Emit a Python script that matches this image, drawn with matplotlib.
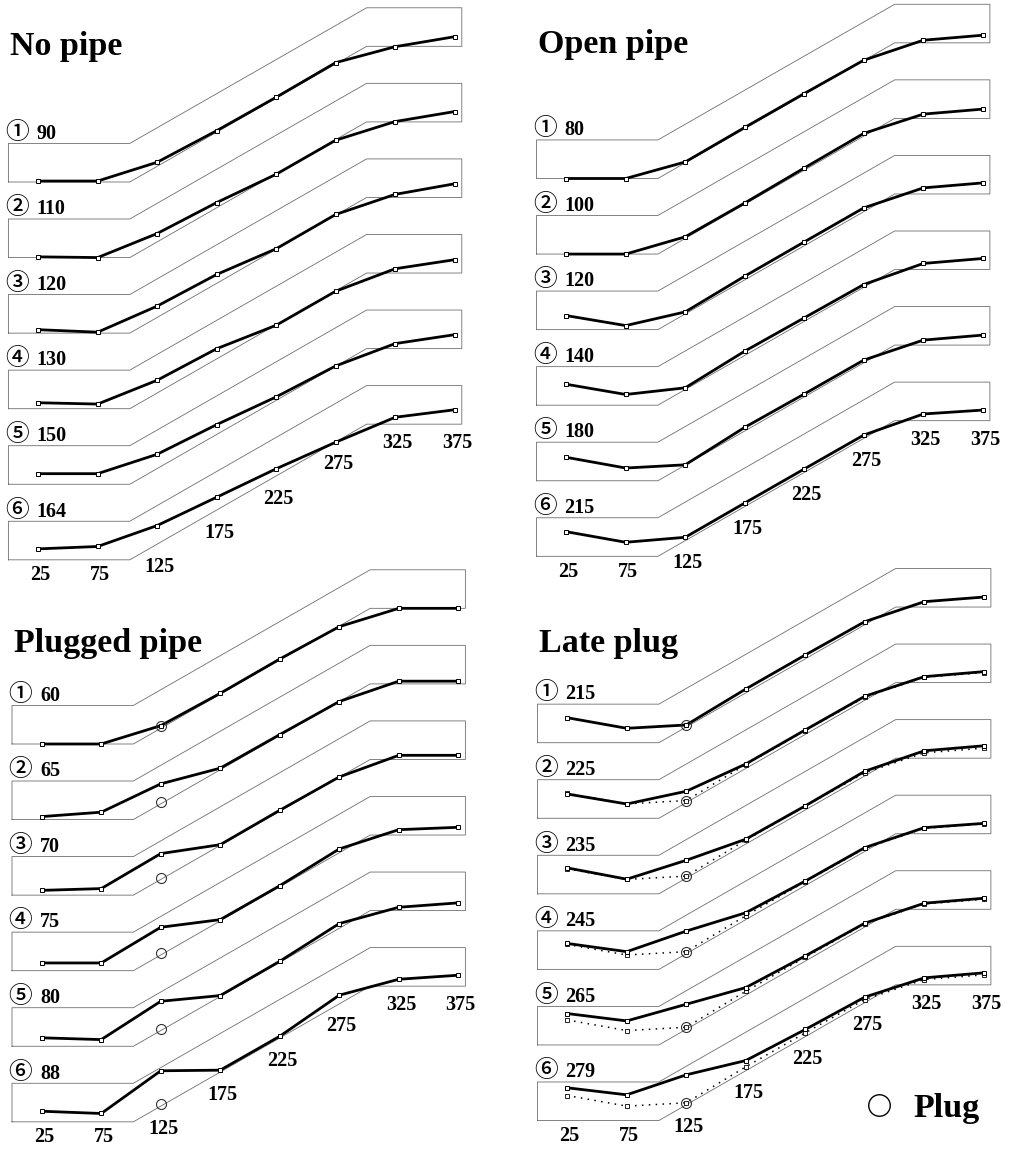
import matplotlib

matplotlib.use("Agg")
import matplotlib.pyplot as plt
import numpy as np


FIG_W_PX, FIG_H_PX, DPI = 1011, 1150, 100
PX_PER_CM = 1.19

# measuring stations along the flume (cm)
STATIONS = [25, 75, 125, 175, 225, 275, 325, 375]

# fixed flume floor and wall
FLUME_X = [0, 102, 301, 381]
FLUME_FLOOR = [0.0, 0.0, 114.0, 114.0]
WALL_HEIGHT = 32.4
ROW_STEP = 63.5

# plug location
PLUG_X = 125
PLUG_Z = 14.8

# bed surface elevation at each station, one row per time step
NO_PIPE_TIMES = [90, 110, 120, 130, 150, 164]
NO_PIPE_SURFACE = [
    [0.8, 0.8, 16.6, 43.1, 71.2, 100.3, 113.7, 122.1],
    [0.6, 0.0, 20.2, 46.2, 70.0, 98.6, 114.3, 122.7],
    [2.9, 0.8, 22.7, 49.3, 70.9, 99.7, 116.6, 125.5],
    [5.0, 3.9, 23.9, 50.4, 70.1, 98.7, 117.6, 125.2],
    [8.9, 8.9, 25.2, 50.1, 73.4, 99.4, 118.2, 125.7],
    [9.2, 11.2, 28.8, 52.6, 76.5, 98.8, 119.8, 126.1],
]

OPEN_PIPE_TIMES = [80, 100, 120, 140, 180, 215]
OPEN_PIPE_SURFACE = [
    [0.0, 0.0, 13.9, 42.9, 71.4, 99.4, 116.2, 120.4],
    [0.0, 0.0, 14.5, 42.9, 72.3, 101.4, 117.6, 121.8],
    [11.8, 3.4, 14.9, 44.9, 73.7, 102.3, 119.1, 123.3],
    [17.6, 9.0, 14.6, 45.4, 73.4, 101.4, 119.1, 123.3],
    [19.7, 10.7, 13.4, 44.9, 72.9, 101.4, 118.2, 122.4],
    [20.7, 11.8, 16.0, 44.8, 73.4, 101.9, 119.6, 122.9],
]

PLUGGED_PIPE_TIMES = [60, 65, 70, 75, 80, 88]
PLUGGED_PIPE_SURFACE = [
    [0.0, 0.0, 15.4, 42.6, 71.4, 98.6, 114.0, 114.0],
    [2.5, 6.2, 30.0, 43.2, 71.4, 99.2, 116.3, 116.3],
    [4.0, 5.5, 34.9, 42.4, 71.3, 99.3, 117.5, 117.5],
    [6.5, 6.5, 36.5, 42.9, 71.4, 102.3, 118.5, 120.5],
    [7.1, 5.6, 37.8, 42.6, 71.4, 103.1, 116.8, 120.5],
    [8.9, 7.0, 42.9, 43.4, 71.9, 106.4, 119.8, 123.2],
]

LATE_PLUG_TIMES = [215, 225, 235, 245, 265, 279]
LATE_PLUG_SURFACE = [
    [21.0, 12.1, 14.9, 45.1, 73.7, 101.7, 118.5, 122.4],
    [20.4, 12.0, 22.7, 45.6, 74.2, 102.5, 119.0, 123.2],
    [21.8, 12.3, 28.2, 45.9, 73.9, 103.0, 120.2, 124.4],
    [21.8, 14.9, 32.2, 47.6, 74.2, 102.3, 119.1, 122.7],
    [26.4, 20.2, 34.2, 48.2, 74.8, 102.3, 119.1, 123.3],
    [27.5, 21.6, 38.4, 50.4, 76.5, 103.7, 119.9, 124.1],
]

CIRCLED = "①②③④⑤⑥"
SERIF = ["Liberation Serif", "DejaVu Serif"]
CIRCLE_FONT = ["Noto Sans CJK JP", "DejaVu Sans"]
BOX_COLOR = "#6e6e6e"

# panel frames in pixels: (left, right, top, bottom), plus origin of row 1
PANELS = [
    dict(title="No pipe", times=NO_PIPE_TIMES, surface=NO_PIPE_SURFACE,
         frame=(0, 505, 0, 600), origin=(8.4, 182.0), title_z=106.7,
         plug=False, keep_first=False),
    dict(title="Open pipe", times=OPEN_PIPE_TIMES, surface=OPEN_PIPE_SURFACE,
         frame=(505, 1011, 0, 600), origin=(536.5, 178.5), title_z=105.2,
         plug=False, keep_first=False),
    dict(title="Plugged pipe", times=PLUGGED_PIPE_TIMES, surface=PLUGGED_PIPE_SURFACE,
         frame=(0, 505, 560, 1150), origin=(12.0, 744.0), title_z=77.6,
         plug=True, keep_first=False),
    dict(title="Late plug", times=LATE_PLUG_TIMES, surface=LATE_PLUG_SURFACE,
         frame=(505, 1011, 560, 1150), origin=(537.5, 742.7), title_z=76.5,
         plug=True, keep_first=True),
]


def floor_at(x):
    return np.interp(x, FLUME_X, FLUME_FLOOR)


def make_axes(fig, frame, origin):
    left, right, top, bottom = frame
    x0, y0 = origin
    ax = fig.add_axes([left / FIG_W_PX, 1 - bottom / FIG_H_PX,
                       (right - left) / FIG_W_PX, (bottom - top) / FIG_H_PX])
    ax.set_xlim((left - x0) / PX_PER_CM, (right - x0) / PX_PER_CM)
    ax.set_ylim((y0 - bottom) / PX_PER_CM, (y0 - top) / PX_PER_CM)
    ax.axis("off")
    return ax


def draw_flume(ax, base):
    floor = list(FLUME_FLOOR)
    top = [z + WALL_HEIGHT for z in floor]
    xs = [FLUME_X[0]] + FLUME_X + FLUME_X[::-1]
    zs = [floor[0]] + top + floor[::-1]
    ax.plot(xs, np.array(zs) + base, color=BOX_COLOR, lw=0.6, zorder=1)


def draw_panel(ax, panel):
    stations = np.array(STATIONS)
    surface = np.array(panel["surface"])
    n_rows = len(panel["times"])

    for k in range(n_rows):
        base = -k * ROW_STEP
        draw_flume(ax, base)

        if panel["keep_first"] and k > 0:
            ax.plot(stations, surface[0] + base, color="black", lw=1.1,
                    ls=(0, (1, 3.5)), marker="s", ms=3, mfc="white",
                    mec="black", mew=0.6, zorder=2)

        ax.plot(stations, surface[k] + base, color="black", lw=2.0,
                marker="s", ms=3.2, mfc="white", mec="black", mew=0.7,
                zorder=3, solid_joinstyle="round")

        if panel["plug"]:
            ax.plot([PLUG_X], [PLUG_Z + base], ls="none", marker="o", ms=7.2,
                    mfc="none", mec="#333333", mew=0.8, zorder=4)

        label_z = base + WALL_HEIGHT + 4.0
        ax.text(7.0, label_z, CIRCLED[k], ha="center", va="baseline",
                fontsize=17, fontweight="medium", family=CIRCLE_FONT)
        ax.text(23.5, label_z, str(panel["times"][k]), ha="left", va="baseline",
                fontsize=14.5, fontweight="bold", family=SERIF)

    # station labels under the last row
    base = -(n_rows - 1) * ROW_STEP
    for x in STATIONS:
        if x < FLUME_X[1]:
            gap = 13.0
        elif x > FLUME_X[2]:
            gap = 16.0
        else:
            gap = 19.0
        ax.text(x + 2, floor_at(x) + base - gap, str(x), ha="center", va="center",
                fontsize=14.5, fontweight="bold", family=SERIF)

    ax.text(1.3, panel["title_z"], panel["title"], ha="left", va="baseline",
            fontsize=24.5, fontweight="bold", family=SERIF)


def main():
    fig = plt.figure(figsize=(FIG_W_PX / DPI, FIG_H_PX / DPI), dpi=DPI)
    fig.patch.set_facecolor("white")

    for panel in PANELS:
        ax = make_axes(fig, panel["frame"], panel["origin"])
        draw_panel(ax, panel)
        if panel["keep_first"]:
            ax.plot([287.0], [-304.5], ls="none", marker="o", ms=15.5,
                    mfc="none", mec="black", mew=1.0)
            ax.text(315.5, -314.5, "Plug", ha="left", va="baseline",
                    fontsize=24.5, fontweight="bold", family=SERIF)

    fig.savefig("out.png", dpi=DPI, facecolor="white")
    plt.close(fig)


if __name__ == "__main__":
    main()
